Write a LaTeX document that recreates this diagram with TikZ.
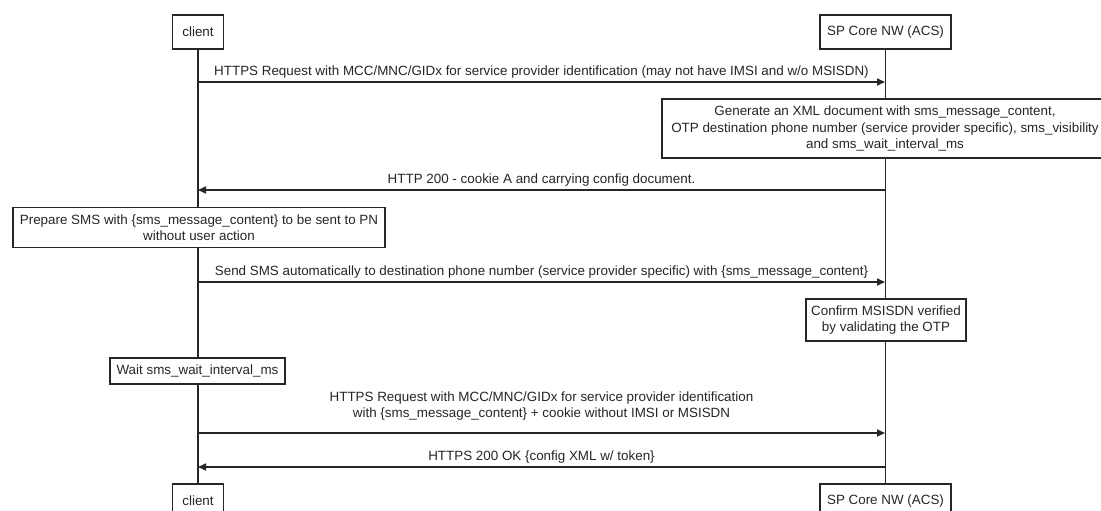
\documentclass[tikz,border=0pt]{standalone}
\usepackage{fontspec}
\setmainfont{Liberation Sans}
\usetikzlibrary{arrows.meta,calc,backgrounds}
\definecolor{ink}{HTML}{262626}
\begin{document}
\begin{tikzpicture}[x=1pt,y=-1pt,
  txt/.style={font=\fontsize{13.4}{16.5}\selectfont},
  box/.style={txt, draw=ink, line width=1.5pt, fill=white, text=ink, align=center, inner sep=0pt},
  life/.style={draw=ink, line width=1.7pt},
  msg/.style={draw=ink, line width=1.6pt, -{Triangle[length=8pt,width=7pt]}},
  lbl/.style={txt, text=ink, inner sep=0pt, anchor=base, yshift=6.7pt}]
\clip (0,0) rectangle (1101,511);
% participants
\node[box, minimum width=51pt, minimum height=34pt] (ctop) at (198,32) {client};
\node[box, minimum width=131pt, minimum height=34pt] (stop) at (885.5,32) {SP Core NW (ACS)};
\node[box, minimum width=51pt, minimum height=34pt] (cbot) at (198,501) {client};
\node[box, minimum width=131pt, minimum height=34pt] (sbot) at (885.5,501) {SP Core NW (ACS)};
% lifelines
\begin{scope}[on background layer]
\fill[white] (0,0) rectangle (1101,511);
\draw[life] (ctop.south) -- (cbot.north);
\draw[life] (stop.south) -- (sbot.north);
\end{scope}
% message anchor points on lifelines
\coordinate (c1) at (198,82);   \coordinate (s1) at (885,82);
\coordinate (c2) at (198,190);  \coordinate (s2) at (885,190);
\coordinate (c3) at (198,282);  \coordinate (s3) at (885,282);
\coordinate (c4) at (198,433);  \coordinate (s4) at (885,433);
\coordinate (c5) at (198,467);  \coordinate (s5) at (885,467);
% activity boxes
\node[box, minimum width=446pt, minimum height=59pt] (xml) at (885,128.5)
  {Generate an XML document with sms\_message\_content,\\OTP destination phone number (service provider specific), sms\_visibility\\and sms\_wait\_interval\_ms};
\node[box, minimum width=372pt, minimum height=40pt] (prep) at (199,227.5)
  {Prepare SMS with \{sms\_message\_content\} to be sent to PN\\without user action};
\node[box, minimum width=160pt, minimum height=42pt] (conf) at (886,320)
  {Confirm MSISDN verified\\by validating the OTP};
\node[box, minimum width=175pt, minimum height=26pt] (wait) at (197.5,371)
  {Wait sms\_wait\_interval\_ms};
% messages
\draw[msg] (c1) -- node[lbl] {HTTPS Request with MCC/MNC/GIDx for service provider identification (may not have IMSI and w/o MSISDN)} (s1);
\draw[msg] (s2) -- node[lbl] {HTTP 200 - cookie A and carrying config document.} (c2);
\draw[msg] (c3) -- node[lbl] {Send SMS automatically to destination phone number (service provider specific) with \{sms\_message\_content\}} (s3);
\draw[msg] (c4) -- (s4);
\node[txt, text=ink, fill=white, align=center, inner sep=1pt] (l4) at (541.5,406)
  {HTTPS Request with MCC/MNC/GIDx for service provider identification\\with \{sms\_message\_content\} + cookie without IMSI or MSISDN};
\draw[msg] (s5) -- node[lbl] {HTTPS 200 OK \{config XML w/ token\}} (c5);
\end{tikzpicture}
\end{document}
